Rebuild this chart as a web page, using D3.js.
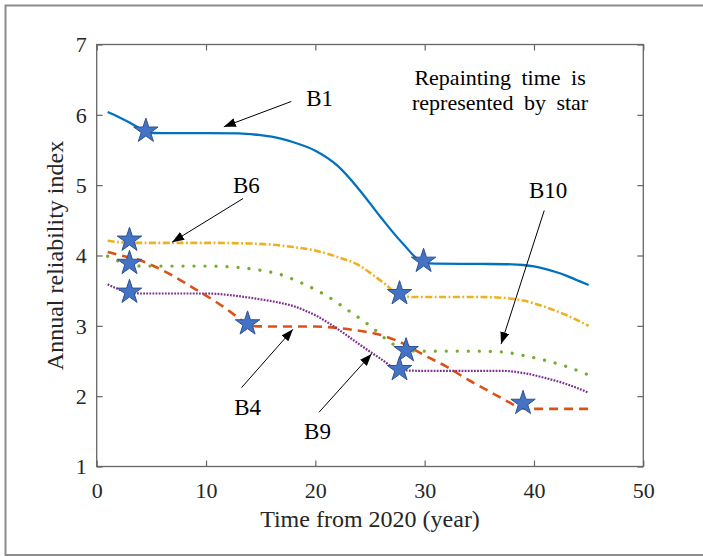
<!DOCTYPE html>
<html><head><meta charset="utf-8">
<script src="https://cdn.jsdelivr.net/npm/d3@7"></script>
<style>
html,body{margin:0;padding:0;background:#fff;}
svg{display:block;font-family:"Liberation Serif","Times New Roman",serif;}
</style>
</head><body>
<svg id="chart" width="703" height="556"></svg>
<script>
// ---------- data ----------
const xTicks = [0, 10, 20, 30, 40, 50];
const yTicks = [1, 2, 3, 4, 5, 6, 7];

const B1 = [[1,6.04],[2,5.97],[3,5.89],[4,5.80],[4.6,5.745],[6,5.74],[10,5.74],[13,5.735],[15,5.71],[16,5.69],[18,5.61],[20,5.49],[22,5.28],[24,4.94],[26,4.54],[28,4.17],[29.9,3.90],[31,3.885],[35,3.88],[38,3.875],[39,3.865],[40,3.845],[41,3.81],[42,3.765],[43,3.71],[44,3.645],[45,3.58]];
const B6 = [[1,4.21],[2,4.19],[3,4.18],[5,4.18],[10,4.18],[14,4.17],[16,4.155],[18,4.12],[20,4.07],[22,3.98],[24,3.86],[25.3,3.72],[26.5,3.58],[27.8,3.42],[29,3.41],[35,3.41],[37,3.40],[39,3.36],[41,3.27],[43,3.15],[45,3.00]];
const B4 = [[1,4.05],[2,4.01],[3,3.97],[4,3.93],[5.5,3.83],[7,3.71],[8.5,3.57],[10,3.43],[11.5,3.28],[13,3.11],[14,3.00],[16,2.99],[20,2.99],[22,2.97],[24,2.93],[26,2.87],[28,2.75],[30,2.58],[32,2.42],[34,2.23],[36,2.06],[37.4,1.94],[38.5,1.85],[39.2,1.82],[41,1.82],[45,1.82]];
const B10 = [[1,3.99],[2,3.92],[3,3.87],[4,3.85],[10,3.85],[13,3.83],[15,3.79],[17,3.72],[18,3.66],[19,3.59],[21,3.43],[23,3.22],[25,3.00],[27,2.75],[28.3,2.645],[30,2.64],[35,2.64],[37,2.63],[39,2.58],[41,2.51],[43,2.42],[45,2.30]];
const B9 = [[1,3.59],[2,3.52],[3,3.47],[4,3.46],[10,3.46],[12,3.44],[14,3.40],[16,3.35],[18,3.28],[20,3.15],[22,2.96],[24,2.74],[26,2.53],[27.7,2.37],[30,2.36],[37,2.36],[39,2.33],[41,2.26],[43,2.17],[45,2.05]];

const starTime  = [4.5, 29.9, 3.0, 27.7, 3.0, 28.3, 3.0, 27.7, 13.8, 39.0];
const starIndex = [5.77, 3.92, 4.22, 3.46, 3.89, 2.65, 3.48, 2.38, 3.03, 1.90];

const labelNames = ["B1", "B6", "B10", "B4", "B9"];
const noteLines = ["Repainting time is", "represented by star"];
const xTitle = "Time from 2020 (year)";
const yTitle = "Annual reliability index";

// ---------- layout / styles ----------
const series = [
  {data: B1,  color: "#0072BD", width: 2.3, dash: null, cap: "butt"},
  {data: B6,  color: "#EDB120", width: 2.6, dash: "7,2.5,1.8,2.5", cap: "butt"},
  {data: B4,  color: "#D95319", width: 2.6, dash: "9,6", cap: "butt"},
  {data: B10, color: "#77AC30", width: 3.3, dash: "0.01,11", cap: "round"},
  {data: B9,  color: "#7E2F8E", width: 2.2, dash: "1.8,1.3", cap: "butt"}
];
// annotation geometry in data units: [textX, textBaselineY, arrowFromX, arrowFromY, arrowToX, arrowToY]
const labelGeom = [
  [20.4, 6.125, 17.8, 6.19, 11.63, 5.83],
  [13.7, 4.89, 13.39, 4.81, 6.90, 4.19],
  [41.3, 4.82, 40.94, 4.64, 36.99, 2.74],
  [13.8, 1.73, 13.24, 2.12, 17.95, 2.95],
  [20.2, 1.39, 20.33, 1.77, 25.14, 2.60]
];
const noteGeom = [[36.9, 6.424], [36.9, 6.068]];

const L = 96.7, T = 44.5, W = 546.6, H = 422;
const svg = d3.select("#chart");

svg.append("rect").attr("x",0).attr("y",0).attr("width",703).attr("height",556).attr("fill","#fff");
svg.append("rect").attr("x",5.5).attr("y",5.5).attr("width",705).attr("height",549.5)
  .attr("fill","none").attr("stroke","#8c8c8c").attr("stroke-width",2);

const x = d3.scaleLinear().domain([0,50]).range([L, L+W]);
const y = d3.scaleLinear().domain([1,7]).range([T+H, T]);

const axisColor = "#666";
const tickLen = 6;

// axes with inward ticks
const gx = svg.append("g").attr("transform", `translate(0,${T+H})`)
  .call(d3.axisBottom(x).tickValues(xTicks).tickSizeInner(-tickLen).tickSizeOuter(0).tickPadding(16).tickFormat(d3.format("d")));
const gxt = svg.append("g").attr("transform", `translate(0,${T})`)
  .call(d3.axisTop(x).tickValues(xTicks).tickSizeInner(-tickLen).tickSizeOuter(0).tickFormat(""));
const gy = svg.append("g").attr("transform", `translate(${L},0)`)
  .call(d3.axisLeft(y).tickValues(yTicks).tickSizeInner(-tickLen).tickSizeOuter(0).tickPadding(10).tickFormat(d3.format("d")));
const gyr = svg.append("g").attr("transform", `translate(${L+W},0)`)
  .call(d3.axisRight(y).tickValues(yTicks).tickSizeInner(-tickLen).tickSizeOuter(0).tickFormat(""));

[gx, gxt, gy, gyr].forEach(g => {
  g.select(".domain").remove();
  g.selectAll(".tick line").attr("stroke", axisColor).attr("stroke-width", 1.2);
  g.selectAll("text").attr("fill", "#262626").attr("font-size", 22)
    .attr("font-family", "'Liberation Serif','Times New Roman',serif");
});
gy.selectAll(".tick text").attr("dy", "0.34em");

svg.append("rect").attr("x", L).attr("y", T).attr("width", W).attr("height", H)
  .attr("fill", "none").attr("stroke", axisColor).attr("stroke-width", 1.3);

// axis titles
svg.append("text").attr("x", x(25)).attr("y", 527).attr("text-anchor","middle")
  .attr("font-size", 24).attr("fill","#262626").text(xTitle);
svg.append("text").attr("transform", `translate(63,${y(4)}) rotate(-90)`).attr("text-anchor","middle")
  .attr("font-size", 24).attr("fill","#262626").text(yTitle);

// lines
const line = d3.line().x(d => x(d[0])).y(d => y(d[1])).curve(d3.curveMonotoneX);
const plot = svg.append("g");
series.forEach(s => {
  plot.append("path").attr("d", line(s.data)).attr("fill","none")
    .attr("stroke", s.color).attr("stroke-width", s.width)
    .attr("stroke-dasharray", s.dash).attr("stroke-linecap", s.cap);
});

// stars
const star = d3.symbol().type(d3.symbolStar).size(185);
plot.selectAll(".star").data(starTime.map((t,i) => [t, starIndex[i]])).enter()
  .append("path").attr("class","star")
  .attr("transform", d => `translate(${x(d[0])},${y(d[1])})`)
  .attr("d", star).attr("fill", "#4472C4").attr("stroke", "#2F528F").attr("stroke-width", 1);

// arrows + labels
const defs = svg.append("defs");
defs.append("marker").attr("id","ah").attr("markerUnits","userSpaceOnUse")
  .attr("markerWidth",13).attr("markerHeight",9).attr("refX",12).attr("refY",4.5).attr("orient","auto")
  .append("path").attr("d","M0,0 L12,4.5 L0,9 Z").attr("fill","#000");

labelNames.forEach((name, i) => {
  const g = labelGeom[i];
  svg.append("line").attr("x1", x(g[2])).attr("y1", y(g[3])).attr("x2", x(g[4])).attr("y2", y(g[5]))
    .attr("stroke","#000").attr("stroke-width",1).attr("marker-end","url(#ah)");
  svg.append("text").attr("x", x(g[0])).attr("y", y(g[1])).attr("text-anchor","middle")
    .attr("font-size", 23).attr("fill","#000").text(name);
});

noteLines.forEach((t, i) => {
  svg.append("text").attr("x", x(noteGeom[i][0])).attr("y", y(noteGeom[i][1])).attr("text-anchor","middle")
    .attr("font-size", 22).attr("word-spacing", "5px").attr("fill","#000").text(t);
});
</script>
</body></html>
